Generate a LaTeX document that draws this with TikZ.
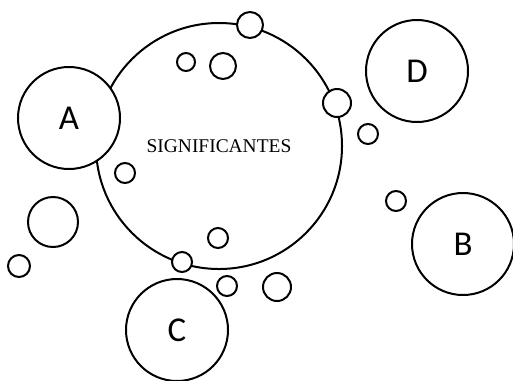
\documentclass[tikz,border=0pt]{standalone}
\usepackage{fontspec}
\setmainfont{Liberation Serif}
\newfontfamily\letterfont{Carlito}

\begin{document}
\begin{tikzpicture}[x=1bp,y=-1bp,
    ring/.style={draw,circle,line width=2bp,inner sep=0pt,fill=white},
    letterring/.style={ring,minimum size=102bp,font=\letterfont\fontsize{35}{35}\selectfont},
    dot/.style={ring,minimum size=#1}]

\useasboundingbox (0,0) rectangle (513,380);

% Big circle
\node[ring,minimum size=246bp,font=\fontsize{19.5}{19.5}\selectfont] (signif) at (219,146) {SIGNIFICANTES};

% Letter circles
\node[letterring] (A) at (69,118) {A};
\node[letterring] (D) at (417,71) {D};
\node[letterring] (B) at (463,244) {B};
\node[letterring] (C) at (177,330) {C};

% Medium circle
\node[dot=50bp] (mid) at (53,222) {};

% Small circles
\foreach \x/\y/\r [count=\i] in {250/25/13, 186/62/9, 223/66/13, 337/103/14, 368/134/10,
    125/173/10, 396/201/10, 218/238/10, 182/262/10, 227/286/10, 277/287/14, 19/266/11} {
    \node[dot=2*\r bp] (s\i) at (\x,\y) {};
}

\end{tikzpicture}
\end{document}
